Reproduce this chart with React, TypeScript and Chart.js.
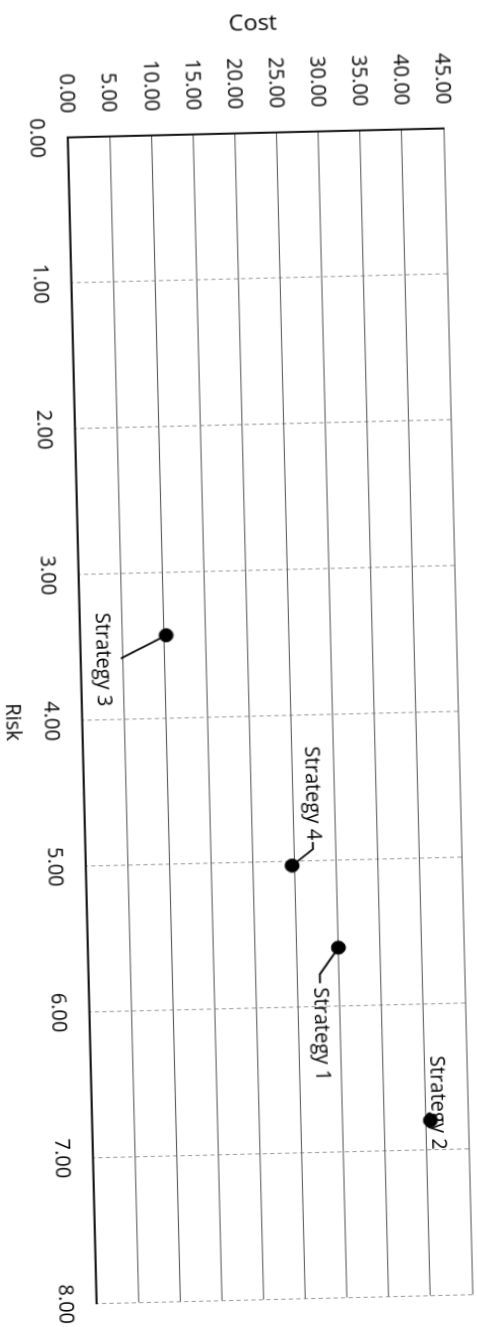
import React, { useEffect, useRef } from 'react';
import { Chart, registerables } from 'chart.js';

Chart.register(...registerables);

// ---- data ----
const strategies = ['Strategy 1', 'Strategy 2', 'Strategy 3', 'Strategy 4'];
const riskValues = [5.6, 6.8, 3.43, 5.03];
const costValues = [30.0, 40.5, 10.3, 24.7];

const riskTicks = [0, 1, 2, 3, 4, 5, 6, 7, 8];
const riskTickLabels = ['0.00', '1.00', '2.00', '3.00', '4.00', '5.00', '6.00', '7.00', '8.00'];
const costTicks = [0, 5, 10, 15, 20, 25, 30, 35, 40, 45];
const costTickLabels = ['0.00', '5.00', '10.00', '15.00', '20.00', '25.00', '30.00', '35.00', '40.00', '45.00'];

const riskTitle = 'Risk';
const costTitle = 'Cost';

// ---- styling: label placement relative to each point (canvas px, unrotated) ----
const labelPlacement: { dx: number; dy: number; leader: number[][] }[] = [
  { dx: 39, dy: 18, leader: [[26, 18], [35, 18]] },
  { dx: -64, dy: -7, leader: [] },
  { dx: -24, dy: 60, leader: [[22, 43]] },
  { dx: -118, dy: -20, leader: [[-16, -20], [-23, -20]] },
];

// page geometry of the (scanned, slightly tilted) plot
const PAGE_ORIGIN = [67.8, 137.4]; // risk 0, cost 0
const RISK_VEC = [3.6, 145.75]; // per 1 risk unit
const COST_VEC = [8.35, -0.2]; // per 1 cost unit

const CANVAS_W = 1323;
const CANVAS_H = 468;
const FONT = "'Open Sans', sans-serif";

export default function App() {
  const canvasRef = useRef<HTMLCanvasElement>(null);
  const wrapRef = useRef<HTMLDivElement>(null);

  useEffect(() => {
    const canvas = canvasRef.current;
    if (!canvas) return;

    const labelPlugin = {
      id: 'strategyLabels',
      afterDatasetsDraw(chart: any) {
        const ctx = chart.ctx as CanvasRenderingContext2D;
        const meta = chart.getDatasetMeta(0);
        ctx.save();
        ctx.font = `20px ${FONT}`;
        ctx.fillStyle = '#000';
        ctx.strokeStyle = '#000';
        ctx.lineWidth = 1.8;
        ctx.textAlign = 'left';
        ctx.textBaseline = 'middle';
        meta.data.forEach((el: any, i: number) => {
          const x = el.x;
          const y = el.y;
          const p = labelPlacement[i];
          if (p.leader.length) {
            ctx.beginPath();
            ctx.moveTo(x, y);
            p.leader.forEach(([lx, ly]) => ctx.lineTo(x + lx, y + ly));
            ctx.stroke();
          }
          ctx.fillText(strategies[i], x + p.dx, y + p.dy);
        });
        ctx.restore();
      },
    };

    const chart = new Chart(canvas, {
      type: 'scatter',
      data: {
        datasets: [
          {
            data: riskValues.map((r, i) => ({ x: r, y: costValues[i] })),
            backgroundColor: '#000',
            borderColor: '#000',
            pointRadius: 6.5,
            pointHoverRadius: 6.5,
          },
        ],
      },
      options: {
        responsive: false,
        animation: false,
        layout: { padding: { top: 0, right: 10, left: 0, bottom: 0 } },
        plugins: { legend: { display: false }, tooltip: { enabled: false } },
        scales: {
          x: {
            type: 'linear',
            min: 0,
            max: 8,
            afterBuildTicks: (s: any) => {
              s.ticks = riskTicks.map((v) => ({ value: v }));
            },
            afterFit: (s: any) => {
              s.height = 80;
            },
            ticks: {
              autoSkip: false,
              maxRotation: 0,
              padding: 17,
              color: '#000',
              font: { family: FONT, size: 20 },
              callback: (_v: any, i: number) => riskTickLabels[i],
            },
            grid: { color: '#9a9a9a', lineWidth: 1, drawTicks: false },
            border: { color: '#111', width: 2, dash: [4, 3] },
            title: {
              display: true,
              text: riskTitle,
              color: '#000',
              font: { family: FONT, size: 20 },
              padding: { top: 0, bottom: 3 },
            },
          },
          y: {
            type: 'linear',
            min: 0,
            max: 45,
            afterBuildTicks: (s: any) => {
              s.ticks = costTicks.map((v) => ({ value: v }));
            },
            afterFit: (s: any) => {
              s.width = 127;
            },
            ticks: {
              autoSkip: false,
              padding: 24,
              color: '#000',
              font: { family: FONT, size: 20 },
              callback: (_v: any, i: number) => costTickLabels[i],
            },
            grid: { color: '#5a5a5a', lineWidth: 1.1, drawTicks: false },
            border: { color: '#111', width: 2 },
            title: {
              display: true,
              text: costTitle,
              color: '#000',
              font: { family: FONT, size: 22 },
              padding: { top: 6, bottom: 0 },
            },
          },
        },
      },
      plugins: [labelPlugin],
    } as any);

    const { left: L, right: R, top: T, bottom: B } = chart.chartArea;
    const rw = R - L;
    const ch = B - T;
    const a = (RISK_VEC[0] * 8) / rw;
    const b = (RISK_VEC[1] * 8) / rw;
    const c = -(COST_VEC[0] * 45) / ch;
    const d = -(COST_VEC[1] * 45) / ch;
    const e = PAGE_ORIGIN[0] - a * L - c * B;
    const f = PAGE_ORIGIN[1] - b * L - d * B;
    if (wrapRef.current) {
      wrapRef.current.style.transform = `matrix(${a}, ${b}, ${c}, ${d}, ${e}, ${f})`;
    }

    return () => chart.destroy();
  }, []);

  return (
    <div
      style={{
        position: 'fixed',
        left: 0,
        top: 0,
        width: 477,
        height: 1327,
        overflow: 'hidden',
        background: '#fff',
      }}
    >
      <div
        ref={wrapRef}
        style={{
          position: 'absolute',
          left: 0,
          top: 0,
          width: CANVAS_W,
          height: CANVAS_H,
          transformOrigin: '0 0',
        }}
      >
        <canvas ref={canvasRef} width={CANVAS_W} height={CANVAS_H} />
      </div>
    </div>
  );
}
